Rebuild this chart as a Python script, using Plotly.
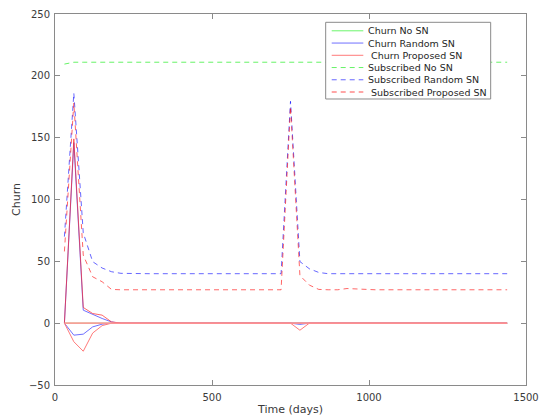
import plotly.graph_objects as go

days = [30, 60, 90, 120, 150, 180, 210, 240, 270, 300, 330, 360, 390, 420, 450, 480,
        510, 540, 570, 600, 630, 660, 690, 720, 750, 780, 810, 840, 870, 900, 930, 960,
        990, 1020, 1050, 1080, 1110, 1140, 1170, 1200, 1230, 1260, 1290, 1320, 1350, 1380, 1410, 1440]

churn_no_sn = [0, 0, 0, 0, 0, 0, 0, 0, 0, 0, 0, 0, 0, 0, 0, 0,
               0, 0, 0, 0, 0, 0, 0, 0, 0, 0, 0, 0, 0, 0, 0, 0,
               0, 0, 0, 0, 0, 0, 0, 0, 0, 0, 0, 0, 0, 0, 0, 0]
churn_random_up = [0, 146, 10.5, 7, 3.8, 1, 0, 0, 0, 0, 0, 0, 0, 0, 0, 0,
                   0, 0, 0, 0, 0, 0, 0, 0, 0, 0, 0, 0, 0, 0, 0, 0,
                   0, 0, 0, 0, 0, 0, 0, 0, 0, 0, 0, 0, 0, 0, 0, 0]
churn_random_down = [0, -9.7, -8.9, -3, -0.8, 0, 0, 0, 0, 0, 0, 0, 0, 0, 0, 0,
                     0, 0, 0, 0, 0, 0, 0, 0, 0, -1, 0, 0, 0, 0, 0, 0,
                     0, 0, 0, 0, 0, 0, 0, 0, 0, 0, 0, 0, 0, 0, 0, 0]
churn_proposed_up = [0, 149, 12.7, 7.8, 6.5, 1, 0, 0, 0, 0, 0, 0, 0, 0, 0, 0,
                     0, 0, 0, 0, 0, 0, 0, 0, 0, 0, 0, 0, 0, 0, 0, 0,
                     0, 0, 0, 0, 0, 0, 0, 0, 0, 0, 0, 0, 0, 0, 0, 0]
churn_proposed_down = [0, -15, -22.7, -8, -2, 0, 0, 0, 0, 0, 0, 0, 0, 0, 0, 0,
                       0, 0, 0, 0, 0, 0, 0, 0, 0, -5.7, 0, 0, 0, 0, 0, 0,
                       0, 0, 0, 0, 0, 0, 0, 0, 0, 0, 0, 0, 0, 0, 0, 0]
sub_no_sn = [209.5, 211, 211, 211, 211, 211, 211, 211, 211, 211, 211, 211, 211, 211, 211, 211,
             211, 211, 211, 211, 211, 211, 211, 211, 211, 211, 211, 211, 211, 211, 211, 211,
             211, 211, 211, 211, 211, 211, 211, 211, 211, 211, 211, 211, 211, 211, 211, 211]
sub_random = [70, 186, 73, 49.7, 44.6, 41.6, 40.3, 40, 40, 40, 40, 40, 40, 40, 40, 40,
              40, 40, 40, 40, 40, 40, 40, 40, 179.4, 49.8, 44, 41, 40, 40, 40, 40,
              40, 40, 40, 40, 40, 40, 40, 40, 40, 40, 40, 40, 40, 40, 40, 40]
sub_proposed = [58, 178, 55, 37.5, 33.5, 27.3, 27, 27, 27, 27, 27, 27, 27, 27, 27, 27,
                27, 27, 27, 27, 27, 27, 27, 27, 175, 38.5, 30.8, 27.3, 27, 27, 28, 27.5,
                27, 27, 27, 27, 27, 27, 27, 27, 27, 27, 27, 27, 27, 27, 27, 27]

legend_names = ["Churn No SN", "Churn Random SN", " Churn Proposed SN",
                "Subscribed No SN", "Subscribed Random SN", " Subscribed Proposed SN"]

GREEN_S = "#6cf56c"
BLUE_S = "#7070ff"
RED_S = "#ff7a7a"
GREEN_D = "rgba(0,235,0,0.6)"
BLUE_D = "rgba(0,0,255,0.6)"
RED_D = "rgba(255,0,0,0.6)"
DASH = "5px,4px"

legend_colors = [GREEN_S, BLUE_S, RED_S, GREEN_D, BLUE_D, "rgba(255,0,0,0.35)"]
legend_dash = ["solid", "solid", "solid", DASH, DASH, DASH]
legend_width = [1, 1, 1, 1, 1, 2]

fig = go.Figure()
# dashed "subscribed" series
fig.add_trace(go.Scatter(x=days, y=sub_no_sn, mode="lines", name=legend_names[3],
                         line=dict(color=GREEN_D, width=1, dash=DASH)))
fig.add_trace(go.Scatter(x=days, y=sub_random, mode="lines", name=legend_names[4],
                         line=dict(color=BLUE_D, width=1, dash=DASH)))
fig.add_trace(go.Scatter(x=days, y=sub_proposed, mode="lines", name=legend_names[5],
                         line=dict(color=RED_D, width=1, dash=DASH)))
# solid churn series
fig.add_trace(go.Scatter(x=days, y=churn_no_sn, mode="lines", name=legend_names[0],
                         line=dict(color=GREEN_S, width=1)))
fig.add_trace(go.Scatter(x=days, y=churn_random_down, mode="lines", name=legend_names[1],
                         line=dict(color=BLUE_S, width=1)))
fig.add_trace(go.Scatter(x=days, y=churn_random_up, mode="lines", name=legend_names[1],
                         line=dict(color=BLUE_S, width=1)))
fig.add_trace(go.Scatter(x=days, y=churn_proposed_down, mode="lines", name=legend_names[2],
                         line=dict(color=RED_S, width=1)))
fig.add_trace(go.Scatter(x=days, y=churn_proposed_up, mode="lines", name=legend_names[2],
                         line=dict(color="rgba(255,40,40,0.7)", width=1)))

# zero line of the proposed churn (drawn last, pinkish, as in the reference)
fig.add_trace(go.Scatter(x=days, y=churn_no_sn, mode="lines", name=legend_names[2],
                         line=dict(color="rgba(255,150,150,0.9)", width=1.6)))

# Custom compact legend (MATLAB style box)
L_X0, L_X1 = 0.5747, 0.925
L_Y0, L_Y1 = 0.7709, 0.9776
row_top = 0.9547
row_step = 0.0330
sample_x0, sample_x1 = 0.5875, 0.6546
text_x = 0.6615
shapes = [dict(type="rect", xref="paper", yref="paper", x0=L_X0, x1=L_X1, y0=L_Y0, y1=L_Y1,
               line=dict(color="#8a8a8a", width=1), fillcolor="white", layer="above")]
annotations = []
for i, name in enumerate(legend_names):
    yy = row_top - i * row_step
    shapes.append(dict(type="line", xref="paper", yref="paper", x0=sample_x0, x1=sample_x1,
                       y0=yy, y1=yy, layer="above",
                       line=dict(color=legend_colors[i], width=legend_width[i], dash=legend_dash[i])))
    annotations.append(dict(xref="paper", yref="paper", x=text_x, y=yy,
                            text=("&nbsp;" + name[1:]) if name.startswith(" ") else name,
                            showarrow=False, xanchor="left", yanchor="middle", borderpad=0,
                            font=dict(family="DejaVu Sans", size=9.5, color="#262626")))

axis_common = dict(
    showgrid=False, zeroline=False, showline=True, linecolor="#8a8a8a", linewidth=1,
    mirror="ticks", ticks="inside", ticklen=5, tickcolor="#8a8a8a", automargin=False,
    tickfont=dict(family="DejaVu Sans", size=10, color="#3a3a3a"),
)

fig.update_layout(
    width=547, height=418,
    margin=dict(l=55, r=21, t=14, b=33),
    paper_bgcolor="white", plot_bgcolor="white",
    font=dict(family="DejaVu Sans", size=10, color="#3a3a3a"),
    xaxis=dict(range=[0, 1500], tickvals=[0, 500, 1000, 1500], ticklabelstandoff=3,
               title=dict(text="Time (days)", font=dict(size=11, color="#3a3a3a"), standoff=3),
               **axis_common),
    yaxis=dict(range=[-50, 250], tickvals=[-50, 0, 50, 100, 150, 200, 250], ticklabelstandoff=2,
               title=dict(text="Churn", font=dict(size=11, color="#3a3a3a"), standoff=6),
               **axis_common),
    showlegend=False,
    shapes=shapes,
    annotations=annotations,
)

fig.write_html("out.html")
